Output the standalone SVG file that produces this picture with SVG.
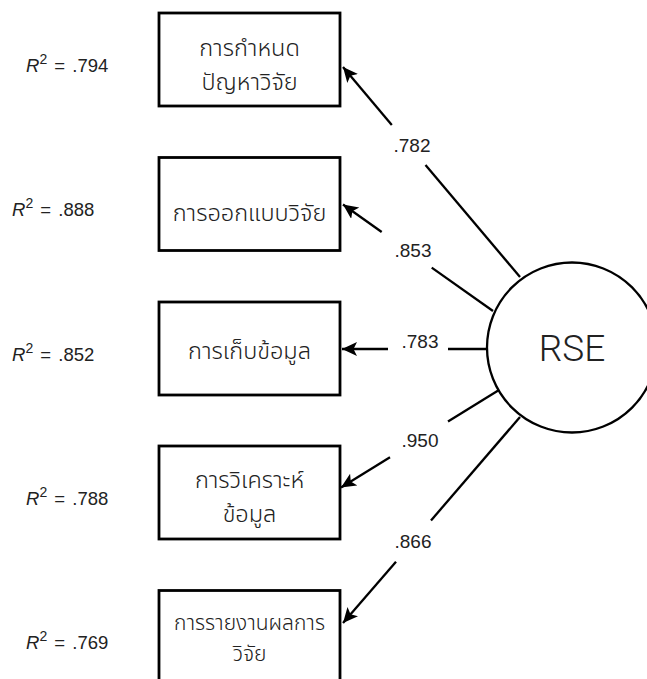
<svg xmlns="http://www.w3.org/2000/svg" width="647" height="679" viewBox="0 0 647 679">
  <style>
    .box { fill: #ffffff; stroke: #000000; stroke-width: 2.8; }
    .th { font-family: "Noto Sans Thai", "Noto Sans Thai Looped", "Noto Sans", "DejaVu Sans", sans-serif; font-weight: 350; font-size: 23.5px; fill: #222222; text-anchor: middle; }
    .th-sm { font-size: 21px; }
    .r2 { font-family: "Liberation Sans", Arial, sans-serif; font-size: 18.5px; word-spacing: 2px; fill: #222222; }
    .coef { font-family: "Liberation Sans", Arial, sans-serif; font-size: 19px; fill: #222222; text-anchor: middle; }
    .path { fill: none; stroke: #000000; stroke-width: 2.3; }
    .latent { fill: #ffffff; stroke: #000000; stroke-width: 2.3; }
    .latent-label { font-family: Roboto, "Liberation Sans", sans-serif; font-weight: 300; font-size: 37px; fill: #222222; text-anchor: middle; }
  </style>
  <defs>
    <marker id="arrow" markerUnits="userSpaceOnUse" markerWidth="18" markerHeight="16" refX="15" refY="7" orient="auto">
      <path d="M0,0 L15,7 L0,14 L3.5,7 Z" fill="#000000"/>
    </marker>
  </defs>

  <rect width="647" height="679" fill="#ffffff"/>

  <!-- loadings from RSE to each indicator; each line is broken where its coefficient sits -->
  <g id="connectors">
    <line class="path" x1="520" y1="277" x2="425.5" y2="165"/>
    <line class="path" x1="391.8" y1="125" x2="343" y2="67" marker-end="url(#arrow)"/>
    <text class="coef" x="412" y="152">.782</text>

    <line class="path" x1="493" y1="311" x2="431.7" y2="267.6"/>
    <line class="path" x1="381.7" y1="232" x2="343" y2="204.5" marker-end="url(#arrow)"/>
    <text class="coef" x="413" y="257">.853</text>

    <line class="path" x1="487" y1="349" x2="448" y2="349"/>
    <line class="path" x1="388" y1="349" x2="342" y2="349" marker-end="url(#arrow)"/>
    <text class="coef" x="420" y="348">.783</text>

    <line class="path" x1="499" y1="390" x2="448" y2="421.5"/>
    <line class="path" x1="390" y1="457.2" x2="341" y2="487.5" marker-end="url(#arrow)"/>
    <text class="coef" x="420" y="447">.950</text>

    <line class="path" x1="520" y1="417" x2="431" y2="520.5"/>
    <line class="path" x1="396" y1="561.7" x2="343" y2="623" marker-end="url(#arrow)"/>
    <text class="coef" x="413" y="548">.866</text>
  </g>

  <!-- latent factor -->
  <g id="RSE">
    <circle class="latent" cx="572" cy="347.5" r="85"/>
    <text class="latent-label" x="572" y="361">RSE</text>
  </g>

  <!-- indicators -->
  <g id="ind1">
    <rect class="box" x="159" y="13" width="181" height="93"/>
    <text class="th" x="249.5" y="56">การกำหนด</text>
    <text class="th" x="249.5" y="89.5">ปัญหาวิจัย</text>
    <text class="r2" x="26" y="72"><tspan font-style="italic">R</tspan><tspan dy="-8" font-size="14">2</tspan><tspan dy="8"> = .794</tspan></text>
  </g>

  <g id="ind2">
    <rect class="box" x="159" y="157.5" width="181" height="93"/>
    <text class="th" x="249.5" y="221">การออกแบบวิจัย</text>
    <text class="r2" x="12" y="216"><tspan font-style="italic">R</tspan><tspan dy="-8" font-size="14">2</tspan><tspan dy="8"> = .888</tspan></text>
  </g>

  <g id="ind3">
    <rect class="box" x="159" y="302" width="181" height="93"/>
    <text class="th" x="249.5" y="359">การเก็บข้อมูล</text>
    <text class="r2" x="12" y="361"><tspan font-style="italic">R</tspan><tspan dy="-8" font-size="14">2</tspan><tspan dy="8"> = .852</tspan></text>
  </g>

  <g id="ind4">
    <rect class="box" x="159" y="446" width="181" height="93"/>
    <text class="th" x="249.5" y="488">การวิเคราะห์</text>
    <text class="th" x="249.5" y="521.5">ข้อมูล</text>
    <text class="r2" x="26" y="505"><tspan font-style="italic">R</tspan><tspan dy="-8" font-size="14">2</tspan><tspan dy="8"> = .788</tspan></text>
  </g>

  <g id="ind5">
    <rect class="box" x="159" y="590.5" width="181" height="93"/>
    <text class="th th-sm" x="249.5" y="630">การรายงานผลการ</text>
    <text class="th th-sm" x="249.5" y="661">วิจัย</text>
    <text class="r2" x="26" y="649"><tspan font-style="italic">R</tspan><tspan dy="-8" font-size="14">2</tspan><tspan dy="8"> = .769</tspan></text>
  </g>
</svg>
